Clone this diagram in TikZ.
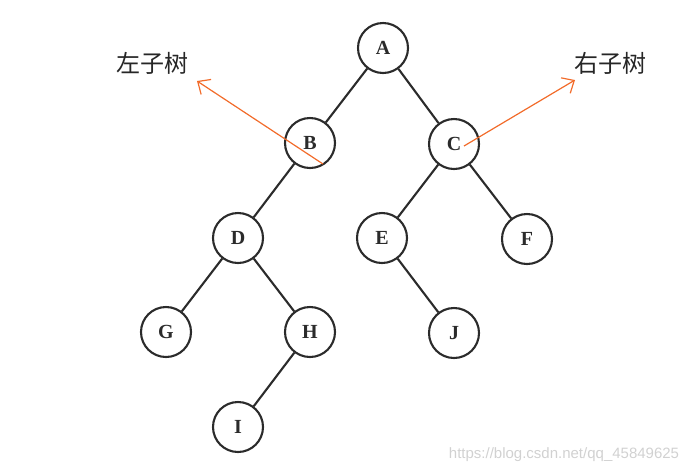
\documentclass[tikz,border=0pt]{standalone}
\usepackage{fontspec}
\setmainfont{Liberation Serif}
\newfontfamily\cjk{Noto Sans CJK SC}
\newfontfamily\wmfont{Liberation Sans}
\usetikzlibrary{arrows.meta}
\definecolor{arr}{HTML}{F26B2A}
\definecolor{ink}{HTML}{2B2B2B}
\begin{document}
\begin{tikzpicture}[x=1pt,y=-1pt,
  tnode/.style={circle,draw=ink,line width=2.1pt,minimum size=50pt,inner sep=0pt,text=ink,font=\bfseries\fontsize{20}{20}\selectfont},
  edge/.style={draw=ink,line width=2.1pt},
  note/.style={draw=arr,line width=1.2pt,-{Straight Barb[length=10pt,width=18pt,line width=1.2pt]}},
  lab/.style={font=\cjk\fontsize{24}{24}\selectfont,text=black!85}]
\useasboundingbox (0,0) rectangle (695,475);
\node[tnode] (A) at (383,48) {A};
\node[tnode] (B) at (310,143) {B};
\node[tnode] (C) at (454,144) {C};
\node[tnode] (D) at (238,238) {D};
\node[tnode] (E) at (382,238) {E};
\node[tnode] (F) at (527,239) {F};
\node[tnode] (G) at (166,332) {G};
\node[tnode] (H) at (310,332) {H};
\node[tnode] (J) at (454,333) {J};
\node[tnode] (I) at (238,427) {I};
\draw[edge] (A) -- (B);
\draw[edge] (A) -- (C);
\draw[edge] (B) -- (D);
\draw[edge] (C) -- (E);
\draw[edge] (C) -- (F);
\draw[edge] (D) -- (G);
\draw[edge] (D) -- (H);
\draw[edge] (E) -- (J);
\draw[edge] (H) -- (I);
\node[lab] (LL) at (152,63) {左子树};
\node[lab] (RL) at (610,63) {右子树};
\coordinate (ls) at (323,164);
\coordinate (lt) at (197,81);
\coordinate (rs) at (464,146);
\coordinate (rt) at (575,80);
\draw[note] (ls) -- (lt);
\draw[note] (rs) -- (rt);
\node[font=\wmfont\fontsize{15}{15}\selectfont,text=black!18] (wm) at (564,455) {https://blog.csdn.net/qq\_45849625};
\end{tikzpicture}
\end{document}
